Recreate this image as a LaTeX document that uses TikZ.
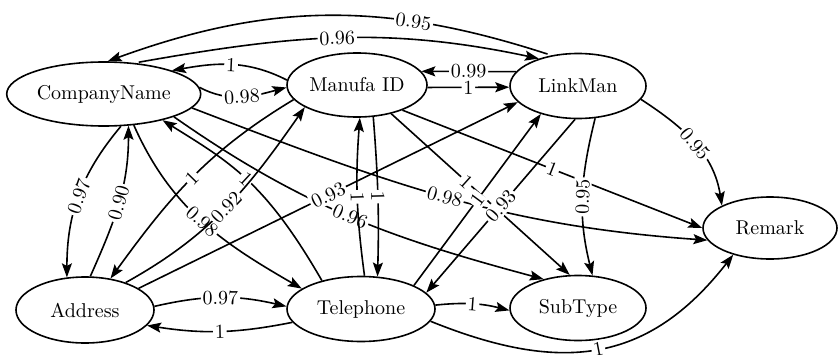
\documentclass[tikz,border=0pt]{standalone}
\usetikzlibrary{arrows.meta,shapes.geometric}
\begin{document}
\begin{tikzpicture}[x=0.5pt,y=0.5pt,
  ent/.style={draw, ellipse, line width=0.8pt, inner sep=0pt,
              font=\fontsize{10}{12}\selectfont},
  dep/.style={line width=0.8pt, -{Stealth[length=7pt,width=5pt,inset=1.3pt]}},
  wt/.style={fill=white, inner sep=0.9pt, sloped, font=\fontsize{10}{12}\selectfont}]
\useasboundingbox (0,0) rectangle (838,354);

% attributes
\node[ent, minimum width=97pt, minimum height=32pt]   (cn) at (103.7,260) {CompanyName};
\node[ent, minimum width=70pt, minimum height=32pt]   (mi) at (357,269)   {Manufa ID};
\node[ent, minimum width=68pt, minimum height=32.5pt] (lm) at (578,268)   {LinkMan};
\node[ent, minimum width=67pt, minimum height=31pt]   (rm) at (770,126)   {Remark};
\node[ent, minimum width=69pt, minimum height=33pt]   (ad) at (85,44)     {Address};
\node[ent, minimum width=74pt, minimum height=32.5pt] (te) at (361,45)    {Telephone};
\node[ent, minimum width=68pt, minimum height=32.5pt] (st) at (578,46)    {SubType};

% long arcs over the top
\draw[dep, shorten <=2pt] (lm.131) to[out=162, in=20] node[wt, pos=0.3] {0.95} (cn.83);
\draw[dep, shorten <=2pt] (cn.45) to[out=10, in=168] node[wt] {0.96} (lm.145);

% CompanyName <-> ManufaID
\draw[dep] (mi.176) to[out=153, in=10] node[wt] {1} (cn.19);
\draw[dep] (cn.4) to[out=-28, in=195] node[wt] {0.98} (mi.182);

% ManufaID <-> LinkMan
\draw[dep] (lm.167) -- node[wt] {0.99} (mi.12);
\draw[dep] (mi.-2) -- node[wt] {1} (lm.181);

% CompanyName <-> Address
\draw[dep] (ad.81) to[out=66, in=-90] node[wt] {0.90} (cn.-52);
\draw[dep] (cn.-62) to[out=230, in=90] node[wt] {0.97} (ad.119);

% CompanyName <-> Telephone
\draw[dep] (cn.-46) to[out=-66, in=150] node[wt] {0.98} (te.161);
\draw[dep] (te.144) to[out=120, in=-32, out looseness=1.3, in looseness=0.9]
  node[wt] {1} (cn.-24);

% CompanyName to SubType and Remark
\draw[dep] (cn.-18) to[out=-35, in=165] node[wt] {0.96} (st.140);
\draw[dep] (cn.-9) to[out=-21, in=176] node[wt] {0.98} (rm.191);

% Address <-> ManufaID, Address -> LinkMan
\draw[dep] (ad.34) to[out=29, in=235] node[wt] {0.92} (mi.203);
\draw[dep] (mi.193) to[out=211, in=54] node[wt] {1} (ad.51);
\draw[dep] (ad.22) -- node[wt] {0.93} (lm.195);

% ManufaID <-> Telephone
\draw[dep] (te.84) to[bend left=6] node[wt] {1} (mi.-85);
\draw[dep] (mi.-63) to[bend left=3] node[wt] {1} (te.63);

% ManufaID to SubType and Remark
\draw[dep] (mi.-40) -- node[wt, pos=0.42] {1} (st.104);
\draw[dep] (mi.-29) -- node[wt] {1} (rm.180);

% LinkMan <-> Telephone
\draw[dep] (te.24) -- node[wt] {1} (lm.217);
\draw[dep] (lm.265) -- node[wt] {0.93} (te.14);

% LinkMan to SubType and Remark
\draw[dep] (lm.-62) to[out=256, in=104] node[wt] {0.95} (st.66);
\draw[dep] (lm.-12) to[out=-33, in=99] node[wt] {0.95} (rm.155);

% bottom row
\draw[dep] (ad.3) to[bend left=13] node[wt] {0.97} (te.178);
\draw[dep] (te.191) to[bend left=10] node[wt] {1} (ad.-14);
\draw[dep] (te.3) to[bend left=10] node[wt] {1} (st.182);
\draw[dep] (te.-10) to[out=-22, in=232, looseness=1.15] node[wt] {1} (rm.216);
\end{tikzpicture}
\end{document}
